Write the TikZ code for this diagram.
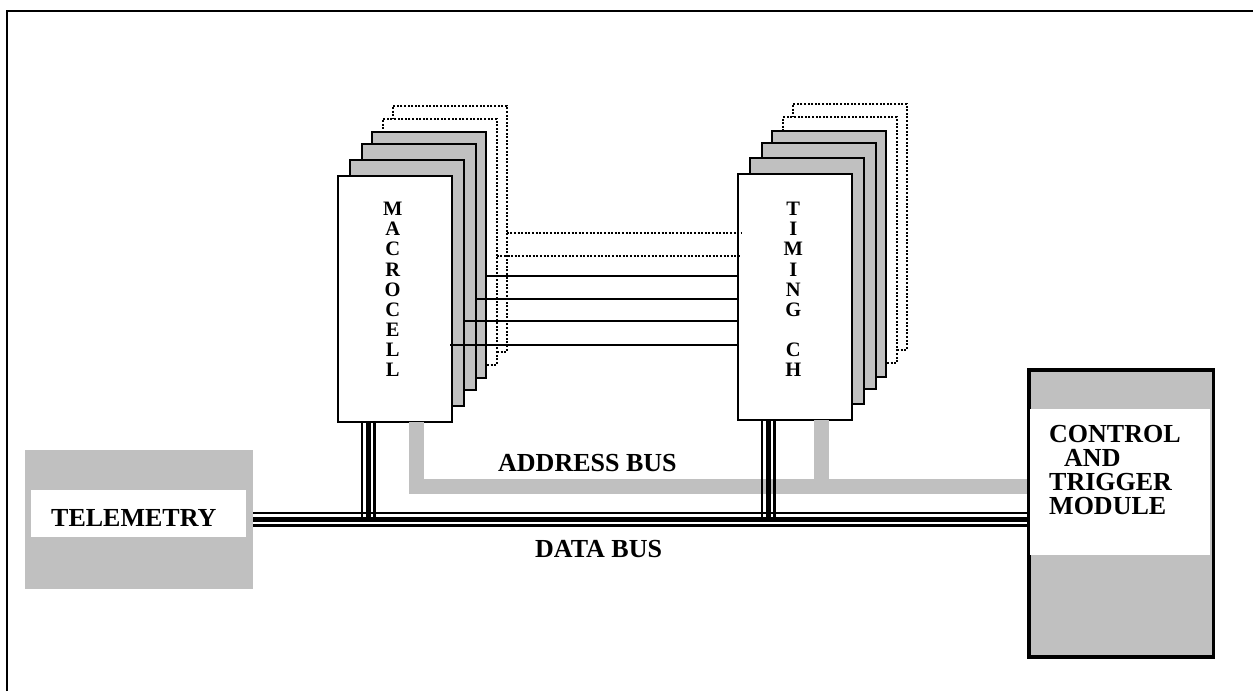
\documentclass[tikz,border=0pt]{standalone}
\usepackage{fontspec}
\setmainfont{Liberation Serif}
\usetikzlibrary{calc}
\definecolor{busgray}{RGB}{192,192,192}
\newcommand{\drawstack}[3]{%
  \node[stackbox,dotbox]  (#16) at (#2+54.4,#3-70) {};
  \node[stackbox,dotbox]  (#15) at (#2+44.4,#3-56.7) {};
  \node[stackbox,graybox] (#14) at (#2+34,#3-43.4) {};
  \node[stackbox,graybox] (#13) at (#2+23.4,#3-31.4) {};
  \node[stackbox,graybox] (#12) at (#2+11.7,#3-15.7) {};
  \node[stackbox,whitebox] (#11) at (#2,#3) {};
}
\begin{document}
\begin{tikzpicture}[x=1pt,y=-1pt,
  stackbox/.style={minimum width=114pt,minimum height=246pt,anchor=north west,inner sep=0pt,outer sep=0pt},
  dotbox/.style={draw,fill=white,line width=2pt,dash pattern=on 2pt off 1.6pt},
  graybox/.style={draw,fill=busgray,line width=2pt},
  whitebox/.style={draw,fill=white,line width=2pt},
  lbl/.style={font=\fontsize{26}{24}\selectfont\bfseries,anchor=base west,inner sep=0pt},
  vlet/.style={font=\fontsize{20.5}{20}\selectfont\bfseries,anchor=base,inner sep=0pt},
  abus/.style={draw=busgray,line width=15pt,line join=miter},
  link/.style={line width=1.7pt},
  dlink/.style={line width=2pt,dash pattern=on 2pt off 1.6pt}]
\useasboundingbox (0,0) rectangle (1253,691);
% outer frame
\draw[line width=2pt] (7,691) -- (7,11) -- (1253,11);
% telemetry
\node[fill=busgray,minimum width=227.7pt,minimum height=139pt,anchor=north west,inner sep=0pt] (tel) at (25,450) {};
\node[fill=white,minimum width=215pt,minimum height=47pt,inner sep=0pt] (telw) at (138.5,513.5) {};
\node[lbl] (teltxt) at (51,526) {TELEMETRY};
% control and trigger module
\node[draw,fill=busgray,line width=2.5pt,minimum width=183.4pt,minimum height=286pt,anchor=north west,inner sep=0pt] (ctl) at (1028.3,369) {};
\node[fill=white,minimum width=180pt,minimum height=146pt,inner sep=0pt] (ctlw) at (1120,482) {};
\node[lbl] (c1) at (1049,442) {CONTROL};
\node[lbl] (c2) at (1064,466) {AND};
\node[lbl] (c3) at (1049,490) {TRIGGER};
\node[lbl] (c4) at (1049,514) {MODULE};
% stacks
\drawstack{m}{338.3}{175.7}
\drawstack{t}{738.3}{174}
% letters
\foreach \L [count=\i from 0] in {M,A,C,R,O,C,E,L,L}
  \node[vlet] (mc\i) at (392.7,215.7+20.1*\i) {\L};
\foreach \L/\i in {T/0,I/1,M/2,I/3,N/4,G/5,C/7,H/8}
  \node[vlet] (tc\i) at (793.3,215.7+20.1*\i) {\L};
% connectors between stacks
\draw[dlink] ([yshift=-127pt]m6.north east) coordinate (h1) -- ([xshift=3pt]h1 -| t1.west);
\draw[dlink] ([yshift=-136.7pt]m5.north east) coordinate (h2) -- ([xshift=3pt]h2 -| t1.west);
\draw[link] ([yshift=-143.7pt]m4.north east) coordinate (h3) -- (h3 -| t1.west);
\draw[link] ([yshift=-154.4pt]m3.north east) coordinate (h4) -- (h4 -| t1.west);
\draw[link] ([yshift=-161pt]m2.north east) coordinate (h5) -- (h5 -| t1.west);
\draw[link] ([xshift=-2pt,yshift=-169.3pt]m1.north east) coordinate (h6) -- (h6 -| t1.west);
% address bus
\coordinate (abR) at ([yshift=26.5pt]ctl.west);
\draw[abus] ([xshift=78.2pt]m1.south west) |- (abR);
\draw[abus] ([xshift=82.7pt]t1.south west) coordinate (tb) -- (tb |- abR);
\node[lbl] (abl) at (498,471) {ADDRESS BUS};
% data bus
\coordinate (dbL) at (tel.east);
\coordinate (dbR) at (tel.east -| ctl.west);
\foreach \s/\w in {-7/2,0/5,6/3}
  \draw[line width=\w pt] ($(dbL)+(0,\s)$) -- ($(dbR)+(0,\s)$);
\coordinate (mv) at ([xshift=29.9pt]m1.south west);
\coordinate (tv) at ([xshift=30pt]t1.south west);
\foreach \s/\w in {-6.5/2,0/5,6.5/3}{
  \draw[line width=\w pt] ($(mv)+(\s,0)$) -- ($(mv |- dbL)+(\s,-2.5)$);
  \draw[line width=\w pt] ($(tv)+(\s,0)$) -- ($(tv |- dbL)+(\s,-2.5)$);
}
\node[lbl] (dbl) at (535,557) {DATA BUS};
\draw[line width=2.5pt] (ctl.north west) rectangle (ctl.south east);
\end{tikzpicture}
\end{document}
